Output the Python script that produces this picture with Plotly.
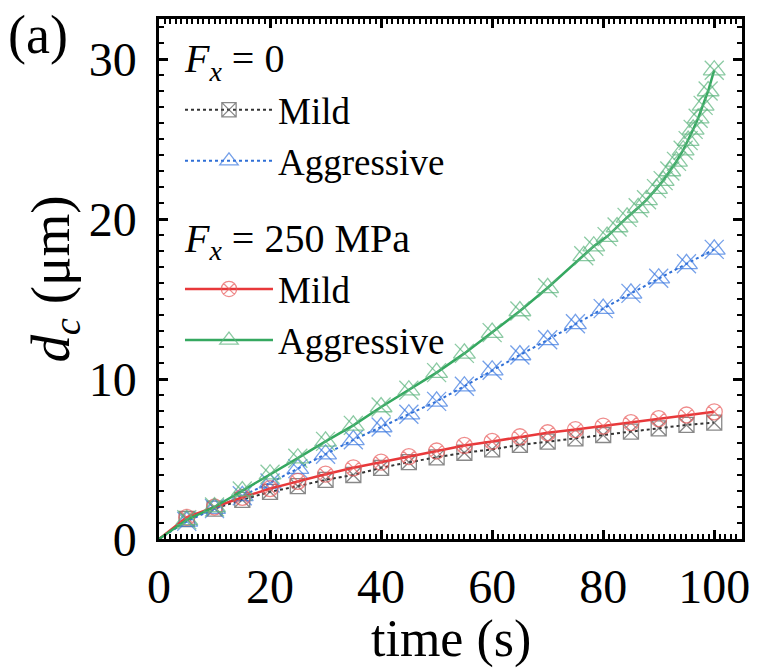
import plotly.graph_objects as go

# ---- data ----
t_reg = [0, 5, 10, 15, 20, 25, 30, 35, 40, 45, 50, 55, 60, 65, 70, 75, 80, 85, 90, 95, 100]
mild_f0 = [0, 1.25, 1.9, 2.45, 2.95, 3.3, 3.7, 4.0, 4.45, 4.8, 5.1, 5.39, 5.6, 5.88, 6.08, 6.29, 6.5, 6.71, 6.92, 7.13, 7.27]
aggr_f0 = [0, 1.1, 1.9, 2.7, 3.5, 4.4, 5.3, 6.2, 7.0, 7.8, 8.6, 9.55, 10.55, 11.5, 12.45, 13.45, 14.4, 15.35, 16.3, 17.2, 18.1]
mild_f250 = [0, 1.35, 2.0, 2.6, 3.15, 3.6, 4.05, 4.45, 4.8, 5.15, 5.5, 5.85, 6.1, 6.39, 6.64, 6.84, 7.06, 7.27, 7.52, 7.75, 7.95]
t_green = [0, 5, 10, 15, 20, 25, 30, 35, 40, 45, 50, 55, 60, 65, 70, 76.5, 78.3, 80.7, 82.5, 84.3,
           86.3, 87.8, 89.6, 90.8, 92.0, 93.2, 94.4, 95.3, 96.2, 97.1, 98.0, 98.9, 100]
aggr_f250 = [0, 1.2, 2.0, 3.0, 4.05, 5.05, 6.1, 7.1, 8.25, 9.3, 10.4, 11.6, 12.9, 14.25, 15.7, 17.7, 18.3, 18.9,
             19.5, 20.1, 20.7, 21.2, 21.9, 22.4, 23.0, 23.6, 24.3, 24.9, 25.6, 26.3, 27.1, 28.0, 29.3]

FONT = "Liberation Serif"
MS = 19

def sizes(ts, s=MS):
    return [0 if t == 0 else s for t in ts]

title_font = dict(family=FONT, size=40, color="black")

fig = go.Figure()

# F_x = 0, Mild
fig.add_trace(go.Scatter(
    x=t_reg, y=mild_f0, mode="lines+markers", name="Mild",
    legendgroup="g0", legendgrouptitle=dict(text="<i>F</i><sub><i>x</i></sub> = 0", font=title_font),
    line=dict(color="#333333", width=2, dash="dot"),
    marker=dict(symbol="square-x-open", size=sizes(t_reg, 15), color="#555555", line=dict(width=1.3)),
))
# F_x = 0, Aggressive (triangle + x overlay)
fig.add_trace(go.Scatter(
    x=t_reg, y=aggr_f0, mode="lines+markers", name="Aggressive",
    legendgroup="g0",
    line=dict(color="#2f6fd6", width=2, dash="dot"),
    marker=dict(symbol="triangle-up-open", size=sizes(t_reg), color="#3a78e0", line=dict(width=1.3)),
))
fig.add_trace(go.Scatter(
    x=t_reg, y=aggr_f0, mode="markers", showlegend=False, legendgroup="g0",
    marker=dict(symbol="x-thin-open", size=sizes(t_reg), color="#3a78e0", line=dict(width=1.3, color="#3a78e0")),
))
# F_x = 250 MPa, Mild
fig.add_trace(go.Scatter(
    x=t_reg, y=mild_f250, mode="lines+markers", name="Mild",
    legendgroup="g1", legendgrouptitle=dict(text="<i>F</i><sub><i>x</i></sub> = 250 MPa", font=title_font),
    line=dict(color="#e8383a", width=2.5),
    marker=dict(symbol="circle-x-open", size=sizes(t_reg, 16), color="#e85a5a", line=dict(width=1.3)),
))
# F_x = 250 MPa, Aggressive
fig.add_trace(go.Scatter(
    x=t_green, y=aggr_f250, mode="lines+markers", name="Aggressive",
    legendgroup="g1",
    line=dict(color="#35a860", width=2.5),
    marker=dict(symbol="triangle-up-open", size=sizes(t_green), color="#5ab47c", line=dict(width=1.3)),
))
fig.add_trace(go.Scatter(
    x=t_green, y=aggr_f250, mode="markers", showlegend=False, legendgroup="g1",
    marker=dict(symbol="x-thin-open", size=sizes(t_green), color="#5ab47c", line=dict(width=1.3, color="#5ab47c")),
))

axis_common = dict(
    showline=True, linecolor="black", linewidth=2.5, mirror="ticks",
    ticks="inside", ticklen=9, tickwidth=2.5, tickcolor="black",
    showgrid=False, zeroline=False,
    tickfont=dict(family=FONT, size=48, color="black"),
)

fig.update_layout(
    width=762, height=669,
    margin=dict(l=159, r=17, t=19, b=130),
    paper_bgcolor="white", plot_bgcolor="white",
    font=dict(family=FONT, color="black"),
    showlegend=True,
    legend=dict(
        x=0.036, y=0.99, xanchor="left", yanchor="top",
        bgcolor="rgba(0,0,0,0)", font=dict(family=FONT, size=37, color="black"),
        itemwidth=88, tracegroupgap=22, groupclick="toggleitem",
    ),
    xaxis=dict(
        range=[0, 105], tickvals=[0, 20, 40, 60, 80, 100],
        minor=dict(dtick=1, ticks="inside", ticklen=5, tickwidth=1.5, tickcolor="black"),
        ticklabelstandoff=4,
        **axis_common,
    ),
    yaxis=dict(
        range=[0, 32.5], tickvals=[0, 10, 20, 30],
        minor=dict(dtick=1, ticks="inside", ticklen=5, tickwidth=1.5, tickcolor="black"),
        title=dict(text="<i>d</i><sub><i>c</i></sub> (μm)", font=dict(family=FONT, size=55, color="black"), standoff=2),
        ticklabelstandoff=10,
        **axis_common,
    ),
    annotations=[
        dict(text="(a)", xref="paper", yref="paper", x=-0.262, y=1.03, xanchor="left", yanchor="top",
             showarrow=False, font=dict(family=FONT, size=54, color="black")),
        dict(text="time (s)", xref="paper", yref="paper", x=0.5, y=-0.193, xanchor="center", yanchor="middle",
             showarrow=False, font=dict(family=FONT, size=52, color="black")),
    ],
)

fig.write_html("out.html")
